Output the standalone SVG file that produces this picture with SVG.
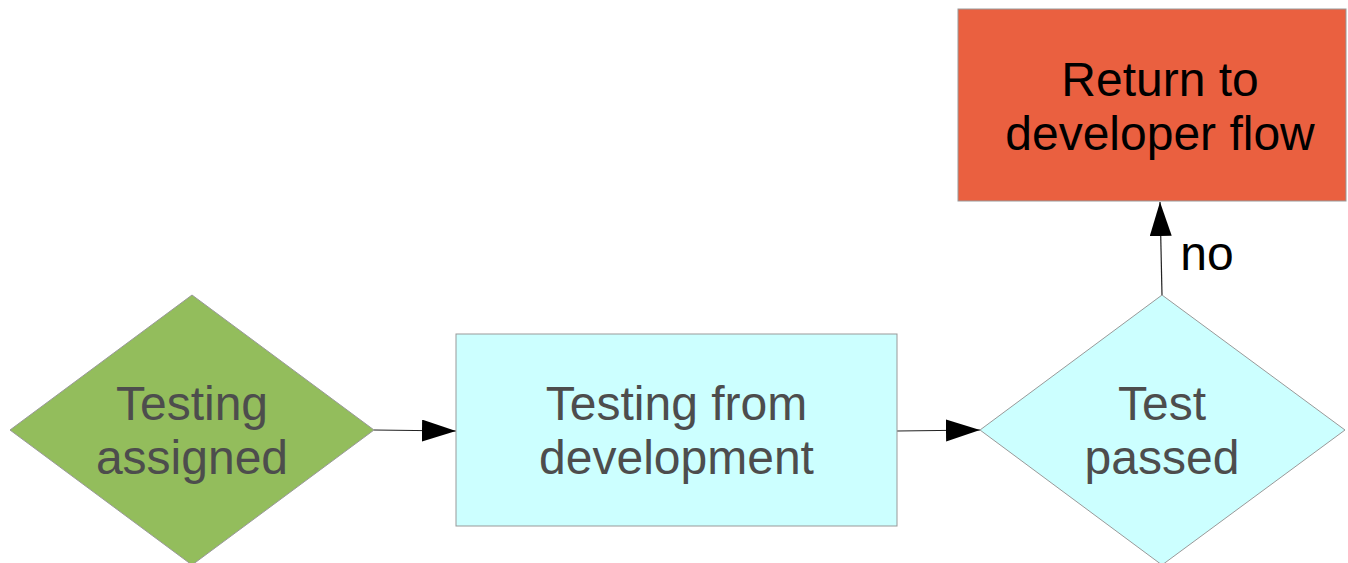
<svg xmlns="http://www.w3.org/2000/svg" width="1348" height="563" viewBox="0 0 1348 563">
<style>
.shape{stroke:#999999;stroke-width:1}
.lbl{font-family:"Liberation Sans",Arial,sans-serif;font-size:48px;text-anchor:middle}
.gray{fill:#4d4d4d}
.blk{fill:#000000}
.conn{stroke:#222222;stroke-width:1.2;fill:none}
</style>
<defs>
<marker id="ah" markerUnits="userSpaceOnUse" markerWidth="36" markerHeight="24" refX="34" refY="11" orient="auto">
<path d="M0,0 L34,11 L0,22 Z" fill="#000"/>
</marker>
</defs>
<rect width="1348" height="563" fill="#ffffff"/>
<g id="connectors">
<line class="conn" x1="374" y1="430" x2="456" y2="431" marker-end="url(#ah)"/>
<line class="conn" x1="897" y1="431" x2="980" y2="430" marker-end="url(#ah)"/>
<line class="conn" x1="1162" y1="295" x2="1160" y2="202" marker-end="url(#ah)"/>
<text class="lbl blk" x="1207" y="270">no</text>
</g>
<g id="testing-assigned">
<polygon class="shape" points="192,295 374,430 192,565 10,430" fill="#93bd5c"/>
<text class="lbl gray" x="192" y="420">Testing</text>
<text class="lbl gray" x="192" y="474">assigned</text>
</g>
<g id="testing-from-development">
<rect class="shape" x="456" y="334" width="441" height="192" fill="#ccffff"/>
<text class="lbl gray" x="676.5" y="420">Testing from</text>
<text class="lbl gray" x="676.5" y="474">development</text>
</g>
<g id="test-passed">
<polygon class="shape" points="1162,295 1345,430 1162,565 980,430" fill="#ccffff"/>
<text class="lbl gray" x="1162" y="420">Test</text>
<text class="lbl gray" x="1162" y="474">passed</text>
</g>
<g id="return-to-developer-flow">
<rect class="shape" x="958" y="9" width="388" height="192" fill="#ea6040"/>
<text class="lbl blk" x="1160" y="96">Return to</text>
<text class="lbl blk" x="1160" y="150">developer flow</text>
</g>
</svg>
